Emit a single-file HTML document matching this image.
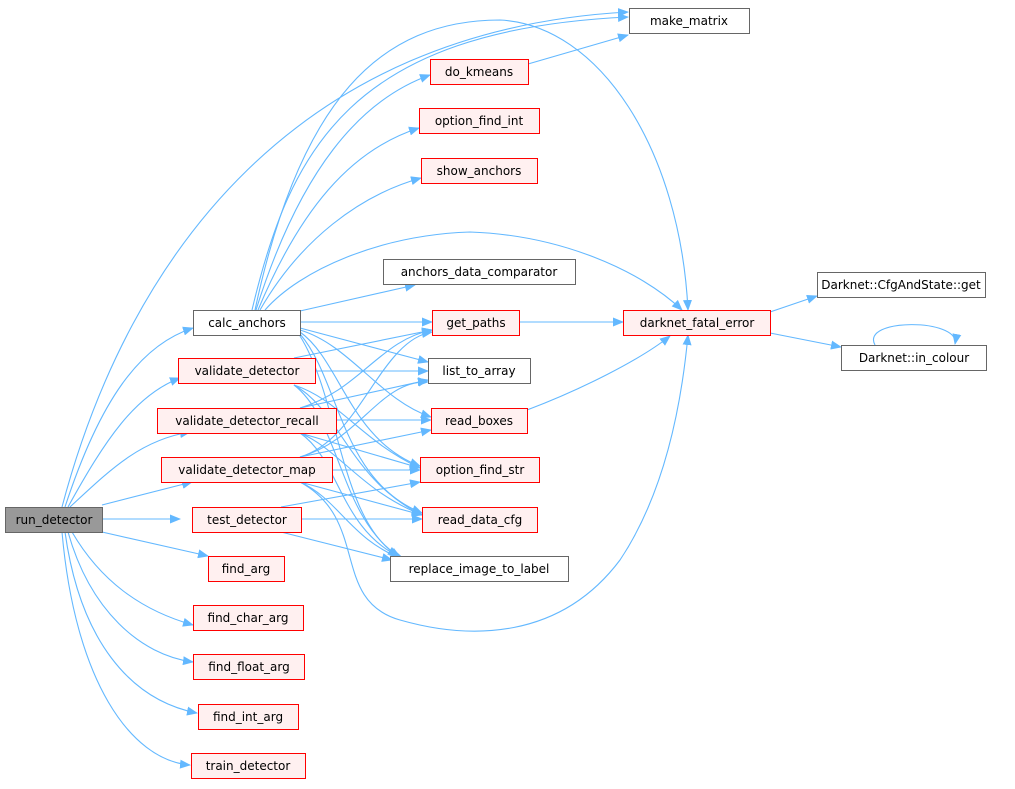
<!DOCTYPE html>
<html><head><meta charset="utf-8"><style>
body{margin:0;background:#fff;width:1015px;height:784px;overflow:hidden}
svg text{font-family:"DejaVu Sans","Liberation Sans",sans-serif;font-size:12px;fill:#000}
</style></head><body>
<svg width="1015" height="784" viewBox="0 0 1015 784">
<defs><marker id="a" markerWidth="11" markerHeight="9" refX="10" refY="4.5" orient="auto" markerUnits="userSpaceOnUse"><path d="M0,0L11,4.5L0,9z" fill="#63b8ff"/></marker></defs>
<g fill="none" stroke="#63b8ff" stroke-width="1.1" marker-end="url(#a)">
<path d="M62,507 C130,250 300,30 628,12"/>
<path d="M252,310 C290,150 350,30 628,17"/>
<path d="M255,310 C300,100 380,20 500,20 C600,25 680,150 688,310"/>
<path d="M65,507 C100,400 140,345 193,328"/>
<path d="M68,507 C105,440 135,395 180,378"/>
<path d="M70,507 C110,470 140,440 190,432"/>
<path d="M102,505 L192,482"/>
<path d="M102,519 L180,519"/>
<path d="M102,532 L208,556"/>
<path d="M72,532 C100,580 140,610 193,625"/>
<path d="M68,532 C90,610 140,655 193,662"/>
<path d="M65,532 C80,640 130,700 197,713"/>
<path d="M62,532 C75,680 130,760 190,765"/>
<path d="M256,310 C300,170 360,100 430,75"/>
<path d="M258,310 C300,210 350,150 419,128"/>
<path d="M260,310 C300,240 360,195 421,178"/>
<path d="M265,310 C300,270 380,235 470,232 C560,235 640,270 682,310"/>
<path d="M300,311 L415,285"/>
<path d="M300,322 L432,322"/>
<path d="M300,328 L428,362"/>
<path d="M300,330 C350,345 380,400 431,417"/>
<path d="M300,332 C340,360 350,440 420,466"/>
<path d="M300,334 C340,380 340,480 422,513"/>
<path d="M300,336 C340,400 340,520 398,556"/>
<path d="M294,358 L432,330"/>
<path d="M294,371 L428,371"/>
<path d="M294,385 C340,400 360,440 420,468"/>
<path d="M294,385 C340,410 350,480 422,515"/>
<path d="M294,385 C340,420 340,520 400,557"/>
<path d="M300,408 C360,390 380,340 432,330"/>
<path d="M300,408 L428,380"/>
<path d="M314,420 L431,420"/>
<path d="M300,433 L420,468"/>
<path d="M300,433 C340,450 360,490 422,515"/>
<path d="M300,433 C340,460 340,530 402,558"/>
<path d="M300,457 C360,440 380,340 432,332"/>
<path d="M300,457 C360,440 380,380 428,382"/>
<path d="M300,457 L431,430"/>
<path d="M310,470 L420,470"/>
<path d="M300,482 L422,515"/>
<path d="M300,482 C340,500 350,540 405,560"/>
<path d="M300,482 C370,520 330,600 400,620 C470,640 560,640 620,560 C660,500 680,420 688,335"/>
<path d="M281,507 L420,482"/>
<path d="M281,519 L422,519"/>
<path d="M281,532 L392,560"/>
<path d="M497,322 L623,322"/>
<path d="M527,410 C580,390 640,360 670,336"/>
<path d="M528,64 L628,35"/>
<path d="M770,312 L817,296"/>
<path d="M770,333 L841,347"/>
<path d="M875,345 C860,318 960,318 955,344"/>
</g>
<g stroke-width="1">
<rect x="5.5" y="507.5" width="97" height="25" fill="#999" stroke="#666"/>
<g fill="#fff" stroke="#666">
<rect x="193.5" y="310.5" width="107" height="25"/>
<rect x="629.5" y="8.5" width="120" height="25"/>
<rect x="383.5" y="259.5" width="192" height="25"/>
<rect x="428.5" y="358.5" width="102" height="25"/>
<rect x="390.5" y="556.5" width="178" height="25"/>
<rect x="817.5" y="272.5" width="168" height="25"/>
<rect x="841.5" y="345.5" width="145" height="25"/>
</g>
<g fill="#fff0f0" stroke="#f00">
<rect x="178.5" y="358.5" width="137" height="25"/>
<rect x="157.5" y="408.5" width="179" height="25"/>
<rect x="161.5" y="457.5" width="171" height="25"/>
<rect x="192.5" y="507.5" width="109" height="25"/>
<rect x="208.5" y="556.5" width="76" height="25"/>
<rect x="193.5" y="605.5" width="110" height="25"/>
<rect x="193.5" y="654.5" width="111" height="25"/>
<rect x="198.5" y="704.5" width="100" height="25"/>
<rect x="191.5" y="753.5" width="114" height="25"/>
<rect x="430.5" y="59.5" width="98" height="25"/>
<rect x="419.5" y="108.5" width="120" height="25"/>
<rect x="421.5" y="158.5" width="116" height="25"/>
<rect x="432.5" y="310.5" width="87" height="25"/>
<rect x="431.5" y="408.5" width="96" height="25"/>
<rect x="420.5" y="457.5" width="119" height="25"/>
<rect x="422.5" y="507.5" width="115" height="25"/>
<rect x="623.5" y="310.5" width="147" height="25"/>
</g></g>
<g text-anchor="middle">
<text x="54" y="524">run_detector</text>
<text x="247" y="327">calc_anchors</text>
<text x="247" y="375">validate_detector</text>
<text x="247" y="425">validate_detector_recall</text>
<text x="247" y="474">validate_detector_map</text>
<text x="247" y="524">test_detector</text>
<text x="246" y="573">find_arg</text>
<text x="248" y="622">find_char_arg</text>
<text x="249" y="671">find_float_arg</text>
<text x="248" y="721">find_int_arg</text>
<text x="248" y="770">train_detector</text>
<text x="689" y="25">make_matrix</text>
<text x="479" y="76">do_kmeans</text>
<text x="479" y="125">option_find_int</text>
<text x="479" y="175">show_anchors</text>
<text x="479" y="276">anchors_data_comparator</text>
<text x="476" y="327">get_paths</text>
<text x="479" y="375">list_to_array</text>
<text x="479" y="425">read_boxes</text>
<text x="480" y="474">option_find_str</text>
<text x="480" y="524">read_data_cfg</text>
<text x="479" y="573">replace_image_to_label</text>
<text x="697" y="327">darknet_fatal_error</text>
<text x="901" y="289">Darknet::CfgAndState::get</text>
<text x="914" y="362">Darknet::in_colour</text>
</g>
</svg>
</body></html>
